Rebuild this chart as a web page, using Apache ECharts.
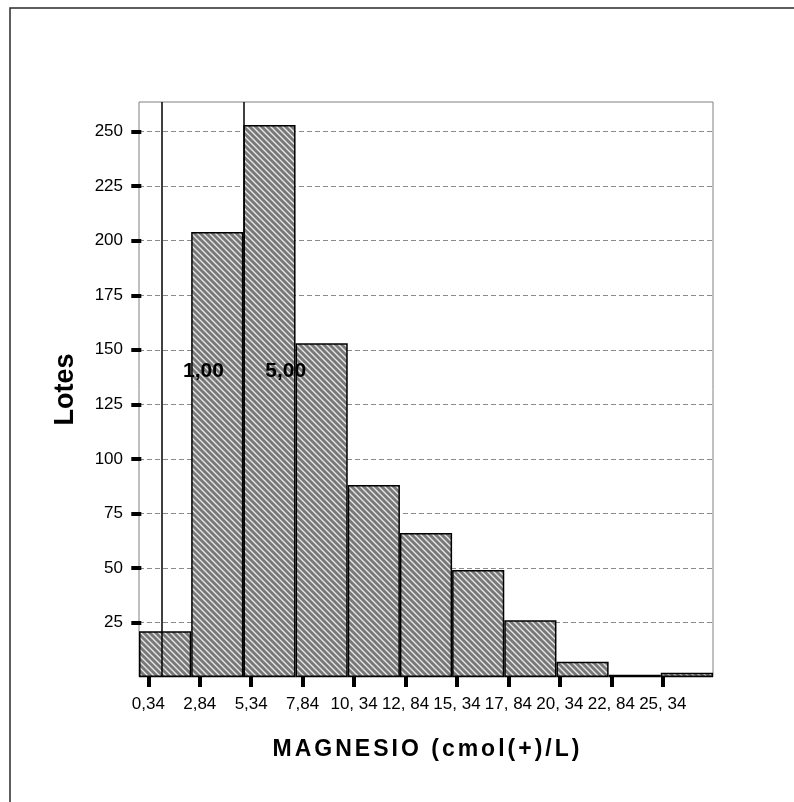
<!DOCTYPE html>
<html>
<head>
<meta charset="utf-8">
<script src="https://cdn.jsdelivr.net/npm/echarts@6/dist/echarts.min.js"></script>
<style>
  html, body { margin: 0; padding: 0; background: #ffffff; }
  #chart { width: 794px; height: 802px; }
</style>
</head>
<body>
<div id="chart"></div>
<script>
// Histogram of magnesium per lot: one count per 2.5-wide bin
const binLabels = ['0,34', '2,84', '5,34', '7,84', '10, 34', '12, 84', '15, 34', '17, 84', '20, 34', '22, 84', '25, 34'];
const counts = [21, 204, 253, 153, 88, 66, 49, 26, 7, 1, 2];

// Tick positions on the magnesium scale and their printed labels
const tickValues = [0.34, 2.84, 5.34, 7.84, 10.34, 12.84, 15.34, 17.84, 20.34, 22.84, 25.34];
const tickLabels = ['0,34', '2,84', '5,34', '7,84', '10, 34', '12, 84', '15, 34', '17, 84', '20, 34', '22, 84', '25, 34'];

// Count axis ticks
const yTicks = [25, 50, 75, 100, 125, 150, 175, 200, 225, 250];

// Reference thresholds drawn as vertical lines
const refLines = [1, 5];

const xTitle = 'MAGNESIO (cmol(+)/L)';
const yTitle = 'Lotes';

const FONT = '"Liberation Sans", Arial, sans-serif';

// Grey fill with light diagonal hatching
function hatchTile() {
  const n = 6;
  const c = document.createElement('canvas');
  c.width = n; c.height = n;
  const ctx = c.getContext('2d');
  const img = ctx.createImageData(n, n);
  for (let y = 0; y < n; y++) {
    for (let x = 0; x < n; x++) {
      const d = ((x - y) % n + n) % n;
      const v = d === 0 ? 232 : (d === 1 || d === n - 1) ? 172 : 120;
      const i = (y * n + x) * 4;
      img.data[i] = v; img.data[i + 1] = v; img.data[i + 2] = v; img.data[i + 3] = 255;
    }
  }
  ctx.putImageData(img, 0, 0);
  return c;
}

// Axis title set letter by letter so it can be tracked out
const spacedTitle = xTitle.split('').map(ch => '{c|' + ch + '}').join('');

const refText = refLines.map(v => [v + 2.02, 140, v.toFixed(2).replace('.', ',')]);

const chart = echarts.init(document.getElementById('chart'), null, { renderer: 'canvas' });
chart.setOption({
  animation: false,
  backgroundColor: '#ffffff',
  graphic: [{
    type: 'rect',
    shape: { x: 10, y: 8, width: 900, height: 900 },
    style: { fill: 'none', stroke: '#2a2a2a', lineWidth: 1.5 },
    silent: true, z: -10
  }],
  grid: {
    left: 139, top: 102, right: 81, bottom: 125,
    show: true, borderColor: '#808080', borderWidth: 1, backgroundColor: 'transparent'
  },
  xAxis: [{
    type: 'category',
    data: binLabels,
    show: false,
    boundaryGap: true
  }, {
    type: 'value',
    position: 'bottom',
    min: -0.112, max: 27.78,
    axisLine: { show: false },
    splitLine: { show: false },
    axisTick: {
      show: true, customValues: tickValues, length: 10, inside: false,
      lineStyle: { color: '#000', width: 4 }
    },
    axisLabel: {
      show: true, customValues: tickValues, margin: 19,
      color: '#000', fontSize: 17, fontFamily: FONT,
      formatter: v => tickLabels[tickValues.findIndex(t => Math.abs(t - v) < 1e-6)] || ''
    },
    name: spacedTitle,
    nameLocation: 'middle',
    nameGap: 61,
    nameTextStyle: {
      color: '#000', fontSize: 23, fontWeight: 'bold', fontFamily: FONT,
      rich: {
        c: { color: '#000', fontSize: 23, fontWeight: 'bold', fontFamily: FONT, padding: [0, 1.5, 0, 1.5] }
      }
    }
  }],
  yAxis: {
    type: 'value',
    min: 0, max: 263.6,
    axisLine: { show: false },
    axisTick: {
      show: true, customValues: yTicks, length: 10,
      lineStyle: { color: '#000', width: 4 }
    },
    axisLabel: {
      show: true, customValues: yTicks, margin: 16,
      color: '#000', fontSize: 17, fontFamily: FONT
    },
    splitLine: {
      show: true, customValues: yTicks,
      lineStyle: { color: '#8a8a8a', width: 1.2, type: [5, 3] }
    },
    name: yTitle,
    nameLocation: 'middle',
    nameGap: 60,
    nameTextStyle: { color: '#000', fontSize: 27, fontWeight: 'bold', fontFamily: FONT }
  },
  series: [{
    type: 'bar',
    xAxisIndex: 0,
    data: counts,
    barWidth: '100%',
    barCategoryGap: 0,
    itemStyle: {
      color: { image: hatchTile(), repeat: 'repeat' },
      borderColor: '#000',
      borderWidth: 1.5
    },
    z: 2
  }, {
    type: 'scatter',
    xAxisIndex: 1,
    data: refText,
    symbolSize: 0,
    itemStyle: { opacity: 1 },
    label: {
      show: true, position: 'inside', opacity: 1,
      formatter: p => p.data[2],
      color: '#000', fontSize: 21, fontWeight: 'bold', fontFamily: FONT
    },
    markLine: {
      silent: true,
      symbol: ['none', 'none'],
      label: { show: false },
      lineStyle: { color: '#000', width: 1.5, type: 'solid' },
      data: refLines.map(v => ({ xAxis: v }))
    },
    z: 5
  }]
});
</script>
</body>
</html>
